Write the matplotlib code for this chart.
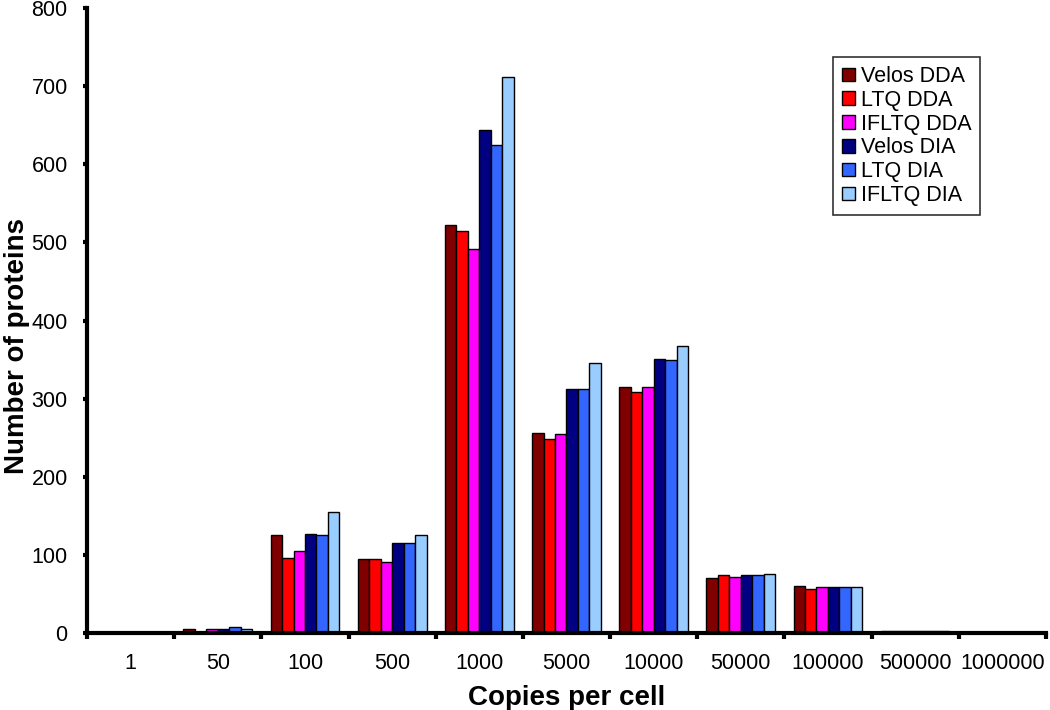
import matplotlib
matplotlib.use("Agg")
import matplotlib.pyplot as plt
import numpy as np

plt.rcParams['font.family'] = ['Liberation Sans', 'DejaVu Sans']

categories = ['1', '50', '100', '500', '1000', '5000', '10000', '50000',
              '100000', '500000', '1000000']
series = ['Velos DDA', 'LTQ DDA', 'IFLTQ DDA', 'Velos DIA', 'LTQ DIA', 'IFLTQ DIA']
velos_dda = [0, 5, 126, 95, 522, 256, 315, 71, 60, 3, 0]
ltq_dda = [0, 1, 96, 95, 515, 249, 308, 74, 57, 3, 0]
ifltq_dda = [0, 5, 105, 91, 491, 255, 315, 72, 59, 3, 0]
velos_dia = [0, 5, 127, 115, 644, 313, 351, 74, 59, 3, 0]
ltq_dia = [0, 8, 126, 115, 625, 313, 350, 74, 59, 3, 0]
ifltq_dia = [0, 6, 155, 126, 712, 346, 367, 76, 59, 3, 0]
colors = ['#800000', '#FF0000', '#FF00FF', '#000080', '#3366FF', '#99CCFF']

data = [velos_dda, ltq_dda, ifltq_dda, velos_dia, ltq_dia, ifltq_dia]

fig = plt.figure(figsize=(10.5, 7.1), dpi=100)
ax = fig.add_axes([0.083, 0.108, 0.913, 0.881])

x = np.arange(len(categories))
w = 0.79 / len(series)
for i, (vals, name, c) in enumerate(zip(data, series, colors)):
    ax.bar(x + (i - 2.5) * w, vals, w, color=c, edgecolor='black',
           linewidth=1, label=name)

ax.set_xlim(-0.5, len(categories) - 0.5)
ax.set_ylim(0, 800)
ax.set_yticks(range(0, 801, 100))
ax.set_xticks(x)
ax.set_xticklabels(categories)
ax.set_xticks(np.arange(-0.5, len(categories), 1), minor=True)
ax.tick_params(axis='x', which='major', length=0, pad=14, labelsize=15.5)
ax.tick_params(axis='x', which='minor', length=4, width=3, direction='out')
ax.tick_params(axis='y', length=3, width=3, direction='out', labelsize=15.5, pad=11)

for s in ['top', 'right']:
    ax.spines[s].set_visible(False)
for s in ['left', 'bottom']:
    ax.spines[s].set_linewidth(3)

ax.set_xlabel('Copies per cell', fontsize=20, fontweight='bold')
ax.set_ylabel('Number of proteins', fontsize=20, fontweight='bold')
ax.xaxis.set_label_coords(0.5, -0.083)
ax.yaxis.set_label_coords(-0.06, 0.46)

leg = ax.legend(loc='upper left', bbox_to_anchor=(0.767, 0.938), fontsize=15.5,
                frameon=True, fancybox=False, edgecolor='black',
                handlelength=0.6, handleheight=0.6, handletextpad=0.3,
                labelspacing=0.13, borderpad=0.4)
leg.get_frame().set_linewidth(1.2)

fig.savefig('out.png', dpi=100)
